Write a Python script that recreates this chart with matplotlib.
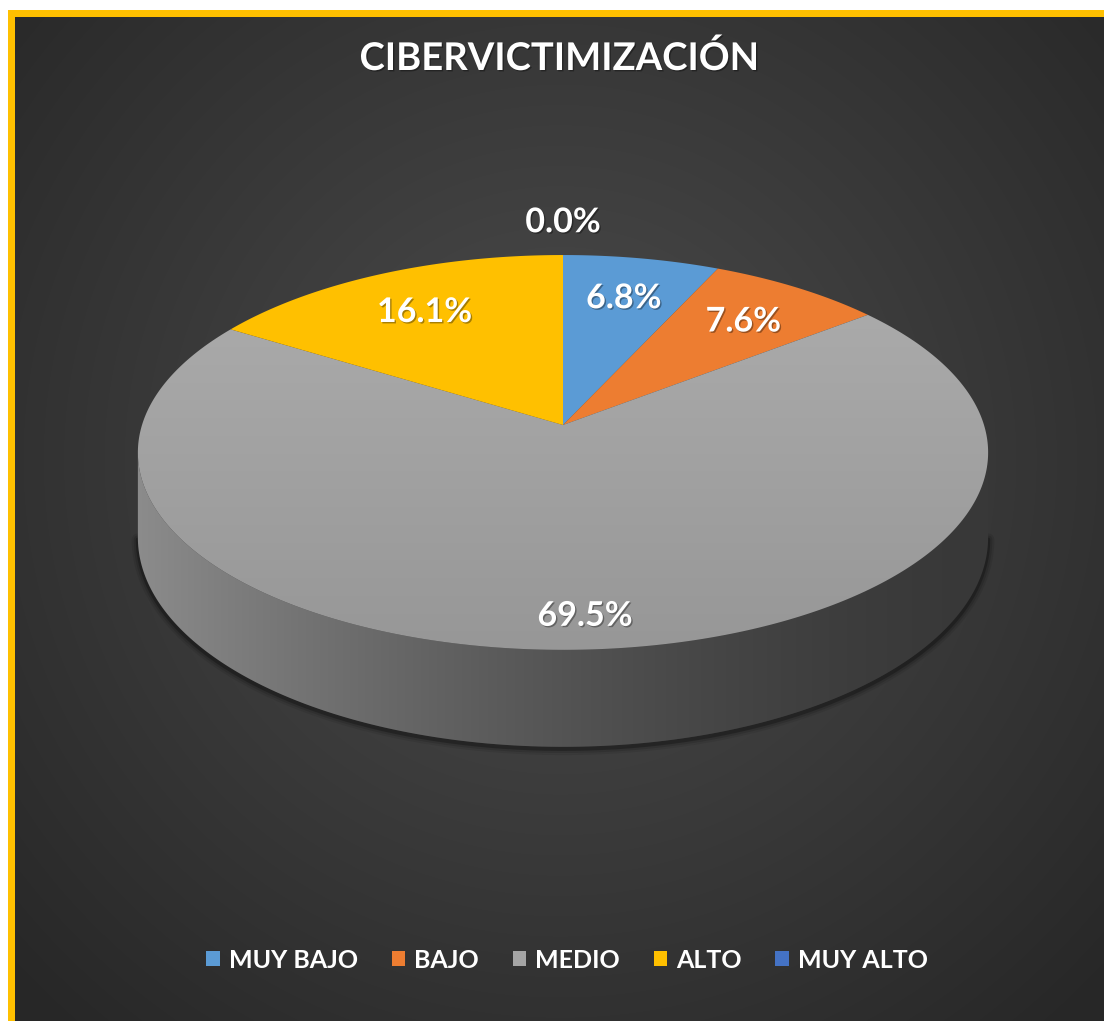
import numpy as np
import matplotlib
matplotlib.use("Agg")
import matplotlib.pyplot as plt
from matplotlib.patches import Polygon, Rectangle
from matplotlib import patheffects as pe

plt.rcParams['font.family'] = ['Lato', 'DejaVu Sans']

# data
categories = ['MUY BAJO', 'BAJO', 'MEDIO', 'ALTO', 'MUY ALTO']
percentages = [6.8, 7.6, 69.5, 16.1, 0.0]
colors = ['#5B9BD5', '#ED7D31', '#A5A5A5', '#FFC000', '#4472C4']
title = 'CIBERVICTIMIZACIÓN'

# label radius (fraction of pie radius) per slice
label_r = [0.75, 0.75, 0.86, 0.74, 1.24]

W, H = 1104, 1021
fig = plt.figure(figsize=(W / 100, H / 100), dpi=100)
fig.patch.set_facecolor('#303030')
ax = fig.add_axes([0, 0, 1, 1])
ax.set_xlim(0, W)
ax.set_ylim(H, 0)
ax.axis('off')


def gray_img(vals, vertical=False):
    rgb = np.stack([vals, vals, vals], axis=-1)
    if vertical:
        return rgb[:, None, :].repeat(2, axis=1)
    return rgb[None, :, :].repeat(2, axis=0)


# radial gradient background
yy, xx = np.mgrid[0:H, 0:W]
dist = np.sqrt(((xx - 560) / 620) ** 2 + ((yy - 460) / 620) ** 2)
bg = 0.30 - 0.12 * np.clip(dist, 0, 1.2)
ax.imshow(np.stack([bg, bg, bg], axis=-1), extent=(0, W, H, 0), zorder=0,
          interpolation='bilinear', aspect='auto')
ax.set_xlim(0, W)
ax.set_ylim(H, 0)

# white margin + yellow frame on top/left
ax.add_patch(Rectangle((0, 0), 8, H, facecolor='white', edgecolor='none', zorder=1))
ax.add_patch(Rectangle((0, 0), W, 10, facecolor='white', edgecolor='none', zorder=1))
ax.add_patch(Rectangle((8, 10), 7, H, facecolor='#FFC000', edgecolor='none', zorder=1))
ax.add_patch(Rectangle((8, 10), W, 7, facecolor='#FFC000', edgecolor='none', zorder=1))

# pie geometry (simple perspective projection)
CX, CY = 563, 425
K = 0.139
S = 421
T = 193.6
D0 = 83.5


def proj(theta, r=1.0, z=0.0):
    u = r * np.sin(theta)
    v = r * np.cos(theta)
    den = 1 + K * v
    return CX + S * u / den, CY - T * v / den + z * D0 / den


# side wall of the front half
th_side = np.radians(np.linspace(98, 262, 200))
tx, ty = proj(th_side)
bx, by = proj(th_side, z=1)
side_pts = np.column_stack([np.r_[tx, bx[::-1]], np.r_[ty, by[::-1]]])
side_poly = Polygon(side_pts, closed=True, facecolor='none', edgecolor='none', zorder=2)
ax.add_patch(side_poly)
gx = np.linspace(0, 1, 400)
g = 0.22 + 0.33 * (1 - gx) ** 1.6
side_img = ax.imshow(gray_img(g), extent=(CX - 430, CX + 430, 760, 440), zorder=3,
                     interpolation='bilinear', aspect='auto')
side_img.set_clip_path(side_poly)

# shadow under the pie
for lw, a in [(9, 0.08), (6, 0.12), (3, 0.25)]:
    ax.plot(bx, by + 2, color='black', lw=lw, alpha=a, zorder=2, solid_capstyle='round')

# top face wedges
fracs = np.array(percentages) / np.sum(percentages)
starts = np.r_[0, np.cumsum(fracs)[:-1]] * 2 * np.pi
ends = np.cumsum(fracs) * 2 * np.pi
for i, (a0, a1) in enumerate(zip(starts, ends)):
    if a1 - a0 <= 0:
        continue
    th = np.linspace(a0, a1, max(int((a1 - a0) * 80), 3))
    px, py = proj(th)
    pts = np.column_stack([np.r_[CX, px], np.r_[CY, py]])
    if categories[i] == 'MEDIO':
        poly = Polygon(pts, closed=True, facecolor='none', edgecolor='none', zorder=4)
        ax.add_patch(poly)
        gy = np.linspace(0.68, 0.59, 200)
        img = ax.imshow(gray_img(gy, vertical=True), extent=(120, 1000, 660, 250), zorder=5,
                        interpolation='bilinear', aspect='auto')
        img.set_clip_path(poly)
    else:
        ax.add_patch(Polygon(pts, closed=True, facecolor=colors[i], edgecolor='none', zorder=5))

ax.set_xlim(0, W)
ax.set_ylim(H, 0)

# data labels
shadow = [pe.withSimplePatchShadow(offset=(1, -1), shadow_rgbFace='black', alpha=0.35)]
for i, p in enumerate(percentages):
    mid = (starts[i] + ends[i]) / 2
    lx, ly = proj(mid, r=label_r[i])
    ax.text(lx, ly + 2, f'{p:.1f}%', color='white', fontsize=24.5, fontweight='bold',
            ha='center', va='center', zorder=6, path_effects=shadow)

# title
ax.text(560, 58, title, color='white', fontsize=27.5, fontweight='bold',
        ha='center', va='center', zorder=6, path_effects=shadow)

# legend
handles = [Rectangle((0, 0), 1, 1, facecolor=c, edgecolor='none') for c in colors]
leg = ax.legend(handles, categories, loc='center', bbox_to_anchor=(567 / W, 1 - 960 / H),
                ncol=5, frameon=False, handlelength=0.55, handleheight=0.55,
                handletextpad=0.35, columnspacing=1.35,
                prop={'weight': 'bold', 'size': 18})
for t in leg.get_texts():
    t.set_color('white')

fig.savefig('out.png', dpi=100, facecolor=fig.get_facecolor())
